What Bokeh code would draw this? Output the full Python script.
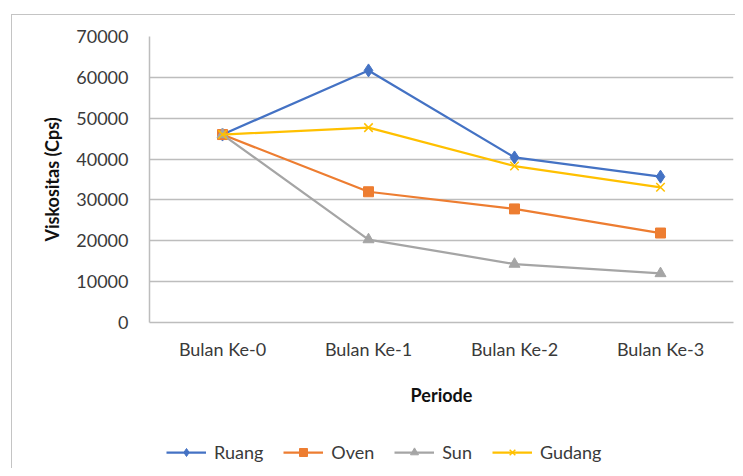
from bokeh.plotting import figure
from bokeh.layouts import column
from bokeh.models import (FactorRange, Range1d, FixedTicker, NumeralTickFormatter,
                          Legend, LegendItem)
from bokeh.embed import file_html
from bokeh.resources import INLINE

# ---- data ----
categories = ["Bulan Ke-0", "Bulan Ke-1", "Bulan Ke-2", "Bulan Ke-3"]
ruang = [46000, 61700, 40400, 35700]
oven = [46000, 32000, 27800, 21900]
sun = [46000, 20300, 14300, 12000]
gudang = [46000, 47700, 38300, 33100]
y_ticks = [0, 10000, 20000, 30000, 40000, 50000, 60000, 70000]

FONT = "Lato"
TXT = "#3a3a3a"

p = figure(width=723, height=405, x_range=FactorRange(*categories, range_padding=0),
           y_range=Range1d(0, 70000), output_backend="svg", toolbar_location=None,
           min_border_left=137, min_border_right=2, min_border_top=21, min_border_bottom=98)
p.outline_line_color = None
p.background_fill_color = "white"
p.border_fill_color = "white"

p.xgrid.grid_line_color = None
p.ygrid.grid_line_color = "#bdbdbd"
p.ygrid.grid_line_width = 1.5
p.yaxis.ticker = FixedTicker(ticks=y_ticks)
p.yaxis.formatter = NumeralTickFormatter(format="0")

for ax in (p.xaxis[0], p.yaxis[0]):
    ax.axis_line_color = "#bdbdbd"
    ax.axis_line_width = 1.5
    ax.major_tick_line_color = None
    ax.minor_tick_line_color = None
    ax.major_label_text_font = FONT
    ax.major_label_text_font_size = "18px"
    ax.major_label_text_color = TXT
    ax.axis_label_text_font = FONT
    ax.axis_label_text_font_size = "18px"
    ax.axis_label_text_font_style = "bold"
    ax.axis_label_text_color = "#111111"

p.yaxis.axis_label = "Viskositas (Cps)"
p.xaxis.axis_label = "Periode"
p.yaxis.major_label_standoff = 15
p.yaxis.axis_label_standoff = 10
p.xaxis.major_label_standoff = 9
p.xaxis.axis_label_standoff = 21

# legend strip below the chart (its copies of the series sit outside its view)
lg = figure(width=723, height=48, x_range=FactorRange(*categories, range_padding=0),
            y_range=Range1d(200000, 210000), output_backend="svg", toolbar_location=None,
            x_axis_type=None, y_axis_type=None,
            min_border_left=0, min_border_right=0, min_border_top=0, min_border_bottom=0)
lg.outline_line_color = None
lg.border_fill_color = "white"

series = [
    ("Ruang", ruang, "#4472C4", "diamond", 13),
    ("Oven", oven, "#ED7D31", "square", 10),
    ("Sun", sun, "#A5A5A5", "triangle", 11),
    ("Gudang", gudang, "#FFC000", "x", 12),
]
items = []
for name, vals, col, marker, sz in series:
    lw = 1.5 if marker == "x" else 1
    p.line(categories, vals, line_color=col, line_width=2.25)
    p.scatter(categories, vals, marker=marker, size=sz, fill_color=col,
              line_color=col, line_width=lw)
    l2 = lg.line(categories, vals, line_color=col, line_width=2.25)
    s2 = lg.scatter(categories, vals, marker=marker, size=sz - 1, fill_color=col,
                    line_color=col, line_width=lw)
    items.append(LegendItem(label=name, renderers=[l2, s2]))

legend = Legend(items=items, orientation="horizontal", location=(17, 5),
                label_text_font=FONT, label_text_font_size="18px", label_text_color=TXT,
                glyph_width=40, glyph_height=20, label_standoff=8, spacing=20,
                padding=0, margin=0, border_line_color=None, background_fill_alpha=0)
lg.add_layout(legend, "center")

layout = column(p, lg, spacing=0, margin=(14, 0, 0, 11),
                styles={"border-top": "1px solid #c4c4c4", "border-left": "1px solid #c4c4c4"})

open("out.html", "w").write(file_html(layout, INLINE))
